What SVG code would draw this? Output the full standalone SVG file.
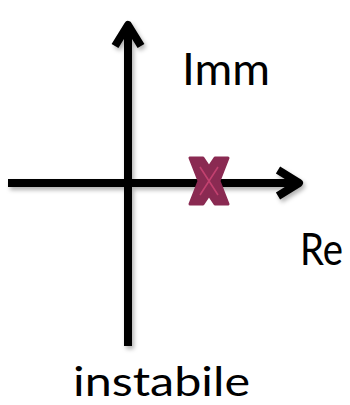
<svg xmlns="http://www.w3.org/2000/svg" width="350" height="405" viewBox="0 0 350 405">
<defs>
<filter id="sh" x="-20%" y="-20%" width="140%" height="140%">
<feDropShadow dx="2" dy="3" stdDeviation="2" flood-color="#000" flood-opacity="0.3"/>
</filter>
</defs>
<style>
.ax{fill:none;stroke:#000;stroke-width:8;stroke-linecap:butt;stroke-linejoin:round}
.lbl{font-family:Lato,"Open Sans","DejaVu Sans",sans-serif;fill:#000}
</style>
<rect width="350" height="405" fill="#fff"/>
<g id="connectors" filter="url(#sh)">
<line class="ax" x1="128" y1="346" x2="128" y2="26"/>
<polyline class="ax" points="115,46 128,25 141,46"/>
<line class="ax" x1="8" y1="183" x2="299" y2="183"/>
<polyline class="ax" points="278,170 299,183 278,196"/>
</g>
<g id="pole">
<polygon points="190,158 203,158 209,167 215,158 228,158 219,181 228,204 215,204 209,195 203,204 190,204 199,181" fill="#8A2A52" stroke="#8A2A52" stroke-width="3" stroke-linejoin="round"/>
<path d="M200,167 L218,195 M218,167 L200,195" stroke="#C2416F" stroke-width="1.6" fill="none"/>
</g>
<g id="label-imm"><text class="lbl" x="182" y="85" font-size="44" textLength="88" lengthAdjust="spacingAndGlyphs">Imm</text></g>
<g id="label-re"><text class="lbl" x="300" y="265" font-size="44" textLength="43" lengthAdjust="spacingAndGlyphs">Re</text></g>
<g id="label-instabile"><text class="lbl" x="73" y="396" font-size="40" textLength="177" lengthAdjust="spacingAndGlyphs">instabile</text></g>
</svg>
